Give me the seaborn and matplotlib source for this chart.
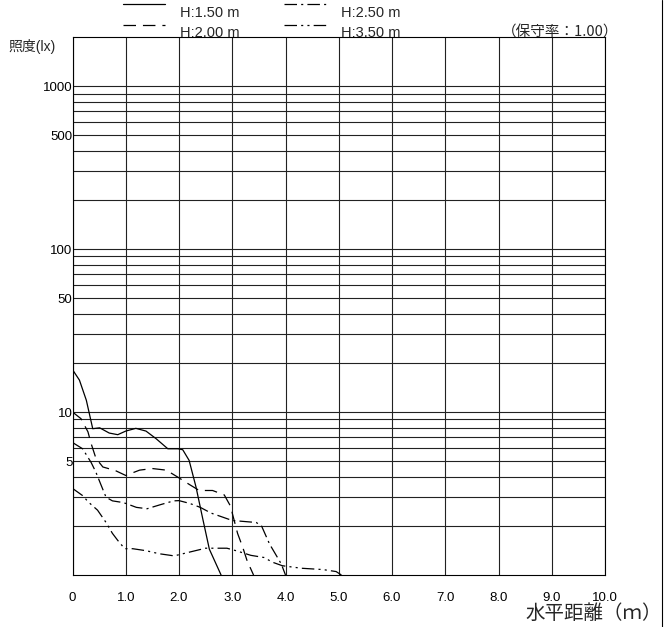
import matplotlib
matplotlib.use('Agg')
import matplotlib.pyplot as plt
import numpy as np
import pandas as pd
import seaborn as sns
from matplotlib.lines import Line2D
from matplotlib.legend_handler import HandlerLine2D

#%% Dados (distância horizontal em m, iluminância em lx)
x_150 = [0.0, 0.13, 0.26, 0.38, 0.51, 0.69, 0.85, 1.0, 1.19, 1.38, 1.57, 1.79, 1.98, 2.07, 2.19, 2.32, 2.44, 2.57, 2.79]
y_150 = [18.2, 15.7, 11.8, 7.9, 8.0, 7.43, 7.26, 7.64, 7.94, 7.64, 6.86, 5.95, 5.95, 5.87, 5.05, 3.46, 2.26, 1.44, 1.0]

x_200 = [0.0, 0.16, 0.29, 0.35, 0.44, 0.57, 0.8, 1.0, 1.26, 1.5, 1.76, 1.97, 2.19, 2.38, 2.63, 2.85, 2.98, 3.0, 3.1, 3.2, 3.28, 3.4]
y_200 = [10.0, 9.1, 7.56, 6.4, 5.2, 4.6, 4.38, 4.08, 4.4, 4.5, 4.4, 4.0, 3.6, 3.3, 3.3, 3.1, 2.6, 2.4, 1.8, 1.47, 1.22, 1.0]

x_250 = [0.0, 0.19, 0.35, 0.44, 0.54, 0.63, 0.75, 0.9, 1.0, 1.2, 1.4, 1.65, 1.9, 2.0, 2.2, 2.4, 2.6, 3.0, 3.45, 3.55, 3.7, 3.92, 4.0]
y_250 = [6.5, 5.95, 4.9, 4.27, 3.54, 3.0, 2.85, 2.8, 2.75, 2.6, 2.55, 2.7, 2.85, 2.86, 2.75, 2.6, 2.4, 2.16, 2.1, 2.0, 1.55, 1.17, 1.0]

x_350 = [0.0, 0.19, 0.3, 0.47, 0.63, 0.75, 0.85, 0.98, 1.13, 1.38, 1.63, 1.91, 2.19, 2.5, 2.9, 3.07, 3.35, 3.6, 3.75, 3.94, 4.3, 4.7, 4.95, 5.05]
y_350 = [3.4, 3.07, 2.8, 2.5, 2.1, 1.8, 1.63, 1.45, 1.45, 1.41, 1.35, 1.31, 1.38, 1.46, 1.46, 1.41, 1.32, 1.28, 1.2, 1.14, 1.1, 1.08, 1.05, 1.0]

alturas = ['H:1.50 m', 'H:2.00 m', 'H:2.50 m', 'H:3.50 m']
xticks = [0, 1, 2, 3, 4, 5, 6, 7, 8, 9, 10]
xtick_labels = ['0', '1.0', '2.0', '3.0', '4.0', '5.0', '6.0', '7.0', '8.0', '9.0', '10.0']
ytick_major = [5, 10, 50, 100, 500, 1000]
ytick_labels = ['5', '10', '50', '100', '500', '1000']
ytick_minor = [2, 3, 4, 6, 7, 8, 9, 20, 30, 40, 60, 70, 80, 90, 200, 300, 400, 600, 700, 800, 900]

dfs = []
for h, xs, ys in zip(alturas, [x_150, x_200, x_250, x_350], [y_150, y_200, y_250, y_350]):
    dfs.append(pd.DataFrame({'dist': xs, 'lux': ys, 'H': h}))
df = pd.concat(dfs, ignore_index=True)


# legenda: linha um pouco acima do texto, como no original
class HandlerAlto(HandlerLine2D):
    def create_artists(self, legend, orig_handle, xdescent, ydescent, width, height, fontsize, trans):
        arts = super().create_artists(legend, orig_handle, xdescent, ydescent, width, height, fontsize, trans)
        for a in arts:
            a.set_ydata(np.asarray(a.get_ydata(), dtype=float) + 0.73 * height)
        return arts


#%% Estilo
sns.set_theme(style='white')
plt.rcParams['font.family'] = ['Liberation Sans', 'Noto Sans CJK JP']
plt.rcParams['lines.scale_dashes'] = False

fig = plt.figure(figsize=(6.7, 6.27), dpi=100)
ax = fig.add_axes([72.5 / 670, 1 - 575 / 627, (605 - 72.5) / 670, (575 - 37) / 627])

tracos = {
    'H:1.50 m': '',
    'H:2.00 m': (9, 5),
    'H:2.50 m': (9, 3, 1.5, 3),
    'H:3.50 m': (9, 3, 1.5, 3, 1.5, 3),
}
sns.lineplot(data=df, x='dist', y='lux', style='H', style_order=alturas, dashes=tracos,
             color='black', linewidth=0.9, estimator=None, sort=False, ax=ax)

ax.set_yscale('log')
ax.set_xlim(0, 10)
ax.set_ylim(1, 2000)

ax.set_xticks(xticks)
ax.set_xticklabels(xtick_labels, fontsize=9.5)
ax.set_yticks(ytick_major)
ax.set_yticklabels(ytick_labels, fontsize=9.5)
ax.set_yticks(ytick_minor, minor=True)
ax.yaxis.set_minor_formatter(matplotlib.ticker.NullFormatter())
ax.tick_params(axis='both', which='both', length=0, colors='black')
ax.tick_params(axis='x', pad=12)
ax.tick_params(axis='y', pad=0)

ax.grid(True, which='both', axis='y', color='#222222', linewidth=0.8)
ax.grid(True, which='major', axis='x', color='#222222', linewidth=0.8)
for s in ax.spines.values():
    s.set_color('black')
    s.set_linewidth(0.8)
ax.set_xlabel('')
ax.set_ylabel('')

# Legenda no topo
handles, labels = ax.get_legend_handles_labels()
ax.get_legend().remove()
fig.legend(handles, labels, ncol=2, frameon=False, fontsize=10.5,
           loc='upper left', bbox_to_anchor=(123 / 670, 1 - 6 / 627),
           borderpad=0, borderaxespad=0, handlelength=2.9, handletextpad=1.0,
           columnspacing=3.05, labelspacing=0.43,
           handler_map={Line2D: HandlerAlto()})

# Textos
fig.text(8 / 670, 1 - 47 / 627, '照度(lx)', fontsize=10, ha='left', va='center')
fig.text(618 / 670, 1 - 33 / 627, '（保守率：1.00）', fontsize=10.5, ha='right', va='center',
         family=['Noto Sans CJK JP', 'Liberation Sans'])
fig.text(662 / 670, 1 - 613 / 627, '水平距離（ｍ）', fontsize=14, ha='right', va='center',
         family=['Noto Sans CJK JP', 'Liberation Sans'])

# Linha de borda à direita
fig.add_artist(Line2D([661.5 / 670, 661.5 / 670], [0, 1], color='black', linewidth=0.8))

fig.savefig('out.png', dpi=100)
